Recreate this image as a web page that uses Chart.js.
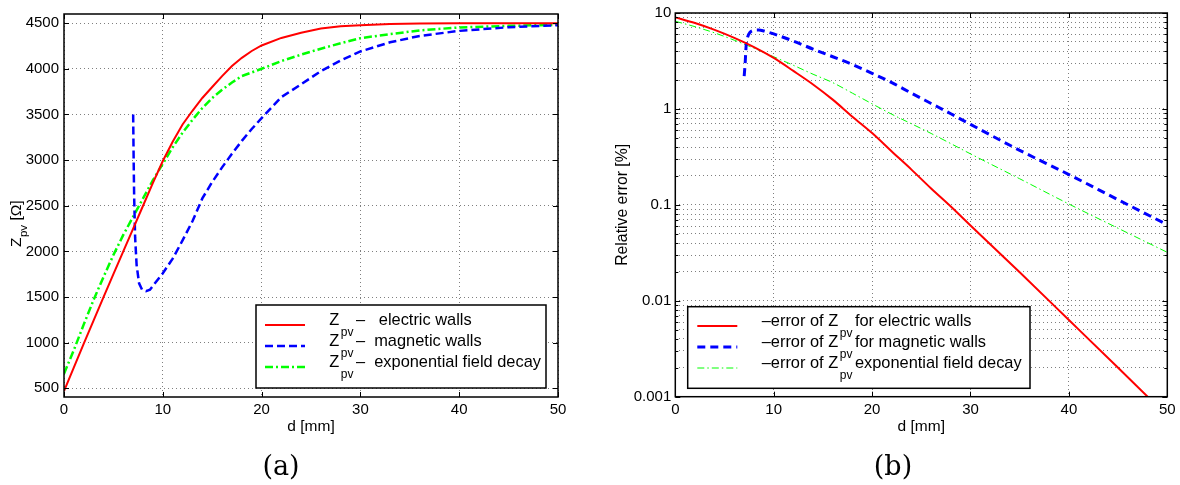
<!DOCTYPE html>
<html><head><meta charset="utf-8">
<script src="https://cdn.jsdelivr.net/npm/chart.js@4"></script>
<style>
html,body{margin:0;padding:0;background:#fff;}
#wrap{position:relative;width:1180px;height:485px;overflow:hidden;background:#fff;}
canvas{position:absolute;top:0;}
#ca{left:0;width:600px;height:485px;}
#cb{left:600px;width:580px;height:485px;}
.cap{position:absolute;top:465px;transform:translate(-50%,-50%);font-family:"DejaVu Serif",serif;font-size:27px;line-height:1;color:#000;}
</style></head>
<body><div id="wrap">
<canvas id="ca" width="600" height="485"></canvas>
<canvas id="cb" width="580" height="485"></canvas>
<div class="cap" style="left:281px">(a)</div>
<div class="cap" style="left:893px">(b)</div>
</div>
<script>
// ---------- data ----------
const xTicks = [0, 10, 20, 30, 40, 50];
const zTicksA = [500, 1000, 1500, 2000, 2500, 3000, 3500, 4000, 4500];
const errTicksB = [0.001, 0.01, 0.1, 1, 10];
const errTickLabelsB = ['0.001', '0.01', '0.1', '1', '10'];

// (a) Z_pv [Ohm] vs d [mm]
const dElecA = [0,1,2,3,4,5,6,7,8,9,10,11,12,13,14,15,16,17,18,19,20,22,24,26,28,30,33,36,40,45,50];
const zElecA = [470,730,990,1245,1500,1750,2000,2250,2500,2750,2990,3200,3390,3540,3680,3800,3920,4030,4120,4195,4255,4338,4395,4440,4465,4478,4490,4496,4500,4500,4500];
const dMagA = [7.0,7.05,7.1,7.2,7.35,7.6,7.9,8.3,8.7,9.2,10,11,12,13,14,15,16,17,18,19,20,22,24,26,28,30,33,36,40,45,50];
const zMagA = [3500,3000,2600,2150,1850,1650,1580,1565,1580,1650,1760,1920,2120,2330,2580,2760,2920,3070,3210,3340,3460,3690,3830,3975,4090,4190,4290,4360,4415,4455,4478];
const dExpA = [0,1,2,3,4,5,6,7,8,9,10,11,12,13,14,15,16,17,18,20,22,24,26,28,30,33,36,40,45,50];
const zExpA = [660,920,1200,1470,1720,1960,2180,2380,2580,2780,2960,3140,3300,3440,3570,3680,3770,3850,3920,4000,4085,4155,4220,4280,4335,4380,4420,4453,4470,4482];

// (b) relative error [%] vs d [mm]
const dElecB = [0,2,4,6,8,10,12,14,16,18,20,22,24,26,28,30,35,40,45,50];
const eElecB = [9.0,7.87,6.67,5.5,4.41,3.4,2.49,1.8,1.25,0.83,0.56,0.36,0.233,0.148,0.096,0.061,0.0198,0.0063,0.002,0.00063];
const dMagB = [7.0,7.1,7.2,7.35,7.6,8.0,8.5,9,10,12,14,16,18,20,22,24,26,28,30,35,40,45,50];
const eMagB = [2.2,3.0,4.6,5.6,6.3,6.6,6.65,6.5,6.05,5.1,4.2,3.5,2.9,2.35,1.88,1.46,1.14,0.89,0.69,0.37,0.207,0.113,0.062];
const dExpB = [0,2,4,6,8,10,12,14,16,18,20,22,24,26,28,30,35,40,45,50];
const eExpB = [8.2,7.2,6.2,5.2,4.3,3.5,2.85,2.3,1.88,1.46,1.13,0.88,0.7,0.555,0.435,0.34,0.187,0.102,0.057,0.032];

// legend texts: [main, subscript, rest]
const legendA = [['Z', 'pv', '\u2013   electric walls'], ['Z', 'pv', '\u2013  magnetic walls'], ['Z', 'pv', '\u2013  exponential field decay']];
const legendB = [['\u2013error of Z', 'pv', 'for electric walls'], ['\u2013error of Z', 'pv', 'for magnetic walls'], ['\u2013error of Z', 'pv', 'exponential field decay']];

// ---------- helpers ----------
const FONT = '"Liberation Sans", Arial, Helvetica, sans-serif';
Chart.defaults.font.family = FONT;
Chart.defaults.font.size = 15;
Chart.defaults.color = '#000';

const RED = '#ff0000', BLUE = '#0000ff', GREEN = '#00ff00';
const pts = (xs, ys) => xs.map((x, i) => ({ x: x, y: ys[i] }));
function seg(ctx, x1, y1, x2, y2) { ctx.beginPath(); ctx.moveTo(x1, y1); ctx.lineTo(x2, y2); ctx.stroke(); }

const framePlugin = {
  id: 'frame',
  afterDraw(chart, args, o) {
    const { ctx, chartArea: a } = chart;
    const xs = chart.scales.x, ys = chart.scales.y;
    ctx.save();
    ctx.setLineDash([]);
    ctx.strokeStyle = '#000';
    ctx.lineWidth = 1;
    xs.ticks.forEach(t => {
      const p = Math.round(xs.getPixelForValue(t.value)) + 0.5;
      seg(ctx, p, a.bottom, p, a.bottom - 5);
      seg(ctx, p, a.top, p, a.top + 5);
    });
    ys.ticks.forEach(t => {
      const p = Math.round(ys.getPixelForValue(t.value)) + 0.5;
      const len = o.majorY(t.value) ? 5 : 3;
      seg(ctx, a.left, p, a.left + len, p);
      seg(ctx, a.right, p, a.right - len, p);
    });
    ctx.lineWidth = 1.5;
    ctx.strokeRect(a.left, a.top, a.right - a.left, a.bottom - a.top);

    // rotated y title with subscript
    if (o.yTitle) {
      const t = o.yTitle;
      ctx.save();
      ctx.translate(t.x, t.y);
      ctx.rotate(-Math.PI / 2);
      ctx.fillStyle = '#000';
      ctx.textBaseline = 'alphabetic';
      ctx.textAlign = 'left';
      let x = 0;
      ctx.font = '15.5px ' + FONT;
      ctx.fillText(t.parts[0], x, 0); x += ctx.measureText(t.parts[0]).width + 0.5;
      ctx.font = '11.5px ' + FONT;
      ctx.fillText(t.parts[1], x, 6); x += ctx.measureText(t.parts[1]).width;
      ctx.font = '15.5px ' + FONT;
      ctx.fillText(t.parts[2], x, 0);
      ctx.restore();
    }

    // legend
    const L = o.legend;
    ctx.fillStyle = '#fff';
    ctx.fillRect(L.x, L.y, L.w, L.h);
    ctx.strokeStyle = '#000';
    ctx.lineWidth = 1.5;
    ctx.strokeRect(L.x, L.y, L.w, L.h);
    chart.data.datasets.forEach((ds, i) => {
      const sy = L.y + L.sy0 + i * L.dy;
      ctx.strokeStyle = ds.borderColor;
      ctx.lineWidth = ds.borderWidth;
      ctx.setLineDash(ds.borderDash || []);
      seg(ctx, L.x + L.sx0, sy, L.x + L.sx1, sy);
      ctx.setLineDash([]);
      const txt = L.texts[i];
      const ty = sy - 4.5;
      ctx.fillStyle = '#000';
      ctx.textBaseline = 'middle';
      ctx.textAlign = 'left';
      let x = L.tx;
      ctx.font = '16.4px ' + FONT;
      ctx.fillText(txt[0], x, ty); x += ctx.measureText(txt[0]).width + 1.5;
      ctx.font = '12px ' + FONT;
      ctx.fillText(txt[1], x, ty + 12); x += ctx.measureText(txt[1]).width + 2.5;
      ctx.font = '16.4px ' + FONT;
      ctx.fillText(txt[2], x, ty);
    });
    ctx.restore();
  }
};

const gridStyle = { color: 'rgba(0,0,0,0.5)', lineWidth: 1, drawTicks: false };
const borderStyle = { display: false, dash: [1, 3] };

// ---------- chart (a) ----------
new Chart(document.getElementById('ca'), {
  type: 'line',
  data: {
    datasets: [
      { data: pts(dElecA, zElecA), borderColor: RED, borderWidth: 2, borderDash: [], pointRadius: 0, tension: 0, fill: false },
      { data: pts(dMagA, zMagA), borderColor: BLUE, borderWidth: 2.5, borderDash: [8, 4], pointRadius: 0, tension: 0, fill: false },
      { data: pts(dExpA, zExpA), borderColor: GREEN, borderWidth: 2.5, borderDash: [8, 3, 2, 3], pointRadius: 0, tension: 0, fill: false }
    ]
  },
  options: {
    responsive: false, animation: false, devicePixelRatio: 1,
    layout: { padding: { left: 0, right: 42, top: 8, bottom: 0 } },
    plugins: {
      legend: { display: false }, tooltip: { enabled: false },
      frame: {
        majorY: () => true,
        yTitle: { x: 21, y: 247, parts: ['Z', 'pv', ' [\u03A9]'] },
        legend: { x: 256, y: 305, w: 290, h: 83, sx0: 9, sx1: 49, sy0: 20, dy: 21, tx: 329.3, texts: legendA }
      }
    },
    scales: {
      x: {
        type: 'linear', min: 0, max: 50,
        grid: gridStyle, border: borderStyle,
        ticks: { padding: 4, autoSkip: false, maxRotation: 0, callback: v => String(v) },
        afterBuildTicks: s => { s.ticks = xTicks.map(v => ({ value: v })); },
        afterFit: s => { s.height = 88; },
        title: { display: true, text: 'd [mm]', font: { size: 15.5 }, padding: { top: 0, bottom: 49 } }
      },
      y: {
        type: 'linear', min: 405, max: 4600,
        grid: gridStyle, border: borderStyle,
        ticks: { padding: 5, autoSkip: false, callback: v => String(v) },
        afterBuildTicks: s => { s.ticks = zTicksA.map(v => ({ value: v })); },
        afterFit: s => { s.width = 64; }
      }
    }
  },
  plugins: [framePlugin]
});

// ---------- chart (b) ----------
const isDecade = v => errTicksB.some(d => Math.abs(d - v) / d < 1e-6);
new Chart(document.getElementById('cb'), {
  type: 'line',
  data: {
    datasets: [
      { data: pts(dElecB, eElecB), borderColor: RED, borderWidth: 2, borderDash: [], pointRadius: 0, cubicInterpolationMode: 'monotone', fill: false },
      { data: pts(dMagB, eMagB), borderColor: BLUE, borderWidth: 3, borderDash: [8, 5], pointRadius: 0, cubicInterpolationMode: 'monotone', fill: false },
      { data: pts(dExpB, eExpB), borderColor: GREEN, borderWidth: 1, borderDash: [7, 3, 1.5, 3], pointRadius: 0, cubicInterpolationMode: 'monotone', fill: false }
    ]
  },
  options: {
    responsive: false, animation: false, devicePixelRatio: 1,
    layout: { padding: { left: 0, right: 12.7, top: 9.5, bottom: 0 } },
    plugins: {
      legend: { display: false }, tooltip: { enabled: false },
      frame: {
        majorY: isDecade,
        legend: { x: 87.7, y: 306.7, w: 342.3, h: 81.6, sx0: 9.6, sx1: 49.6, sy0: 19.3, dy: 21, tx: 161.7, texts: legendB }
      }
    },
    scales: {
      x: {
        type: 'linear', min: 0, max: 50,
        grid: gridStyle, border: borderStyle,
        ticks: { padding: 4, autoSkip: false, maxRotation: 0, callback: v => String(v) },
        afterBuildTicks: s => { s.ticks = xTicks.map(v => ({ value: v })); },
        afterFit: s => { s.height = 88.3; },
        title: { display: true, text: 'd [mm]', font: { size: 15.5 }, padding: { top: 0, bottom: 49 } }
      },
      y: {
        type: 'logarithmic', min: 0.001, max: 10,
        grid: gridStyle, border: borderStyle,
        ticks: {
          padding: 4, autoSkip: false,
          callback: v => { const i = errTicksB.findIndex(d => Math.abs(d - v) / d < 1e-6); return i >= 0 ? errTickLabelsB[i] : ''; }
        },
        afterBuildTicks: s => {
          const t = [];
          for (let k = 0; k < errTicksB.length - 1; k++) {
            for (let m = 1; m <= 9; m++) t.push({ value: parseFloat((m * errTicksB[k]).toPrecision(6)) });
          }
          t.push({ value: errTicksB[errTicksB.length - 1] });
          s.ticks = t;
        },
        afterFit: s => { s.width = 75.3; },
        title: { display: true, text: 'Relative error [%]', font: { size: 15.8 }, padding: { top: 13.5, bottom: 0 } }
      }
    }
  },
  plugins: [framePlugin]
});
</script></body></html>
